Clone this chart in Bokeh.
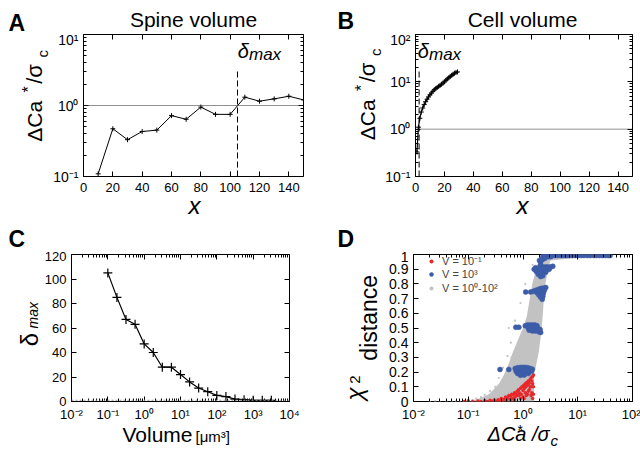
import math
from bokeh.plotting import figure
from bokeh.layouts import column, row
from bokeh.models import (Label, Span, FixedTicker, LinearAxis, LogAxis,
                          Legend, LegendItem, Range1d)
from bokeh.embed import file_html
from bokeh.resources import INLINE

FONT = "Liberation Sans"
RED = "#e8282b"
BLUE = "#3d5ca8"
GRAY = "#c2c2c2"

# ---------------- data ----------------
# Panel A: spine volume
a_x = [10, 20, 30, 40, 50, 60, 70, 80, 90, 100, 110, 120, 130, 140, 150]
a_y = [0.109, 0.47, 0.33, 0.43, 0.45, 0.72, 0.64, 0.95, 0.75, 0.75, 1.31, 1.15, 1.24, 1.35, 1.2]
a_delta = 105
a_delta_top = 3.2

# Panel B: cell volume
b_x = [1, 2, 3, 4, 5, 6, 7, 8, 9, 10, 11, 12, 13, 14, 15, 16, 17, 18, 19, 20,
       21, 22, 23, 24, 25, 26, 27, 28, 29]
b_y = [0.33, 1.1, 1.7, 2.3, 2.8, 3.3, 3.8, 4.3, 4.8, 5.3, 5.8, 6.3, 6.8, 7.2, 7.6, 8.0,
       8.4, 8.9, 9.4, 10.0, 10.8, 11.5, 12.2, 12.9, 13.7, 14.5, 15.2, 15.8, 16.2]
b_delta = 2.5
b_delta_top = 18

threshold = 1.0

# Panel C: delta_max vs volume
c_x = [0.1, 0.178, 0.316, 0.562, 1, 1.78, 3.16, 5.62, 10, 17.8, 31.6, 56.2,
       100, 178, 316, 562, 1000, 1780, 3160]
c_y = [105, 85, 67, 63, 47, 40, 28, 28, 22, 16, 11, 8, 5, 4, 2, 1.5, 1, 1, 1]

# Panel D: chi^2 distance
red_pts = [(0.085, 0.0), (0.1, 0.005), (0.12, 0.0), (0.15, 0.003), (0.17, 0.0), (0.2, 0.005),
           (0.22, 0.0), (0.25, 0.008), (0.28, 0.003), (0.3, 0.01), (0.33, 0.0), (0.35, 0.012),
           (0.38, 0.005), (0.4, 0.02), (0.42, 0.0), (0.45, 0.015), (0.48, 0.03), (0.5, 0.008),
           (0.52, 0.025), (0.55, 0.04), (0.58, 0.015), (0.6, 0.035), (0.62, 0.05), (0.65, 0.02),
           (0.68, 0.045), (0.7, 0.06), (0.72, 0.03), (0.75, 0.055), (0.78, 0.07), (0.8, 0.04),
           (0.83, 0.08), (0.86, 0.06), (0.9, 0.09), (0.93, 0.05), (0.96, 0.1), (1.0, 0.075),
           (1.03, 0.11), (1.06, 0.09), (1.1, 0.12), (1.13, 0.1), (1.17, 0.13), (1.2, 0.11),
           (1.25, 0.14), (1.3, 0.125), (1.35, 0.15), (1.4, 0.16), (1.45, 0.14), (1.5, 0.17),
           (1.55, 0.18), (0.9, 0.02), (1.1, 0.06), (1.3, 0.08), (0.7, 0.01), (1.0, 0.03),
           (1.2, 0.05), (1.4, 0.1), (1.5, 0.12), (1.45, 0.06), (0.85, 0.04), (0.6, 0.005),
           (1.5, 0.02), (1.4, 0.04), (1.55, 0.1), (1.35, 0.1), (1.25, 0.07), (1.15, 0.04),
           (1.05, 0.02), (1.55, 0.05)]
blue_pts = [(2.4, 0.993), (2.7, 0.993), (3.0, 0.993), (3.4, 0.993), (3.8, 0.993), (4.3, 0.993),
            (4.9, 0.993), (5.5, 0.993), (6.2, 0.993), (7, 0.993), (8, 0.993), (9, 0.993),
            (10, 0.993), (11.5, 0.993), (13, 0.993), (15, 0.993), (17, 0.993), (19.5, 0.993),
            (22, 0.993), (25, 0.993), (28, 0.993), (32, 0.993), (36, 0.993), (39, 0.993),
            (2.3, 0.985), (2.6, 0.985), (2.9, 0.985), (3.2, 0.985),
            (2.0, 0.96), (2.1, 0.95), (2.2, 0.965), (2.35, 0.97), (2.5, 0.975), (2.1, 0.93),
            (1.6, 0.9), (1.7, 0.91), (1.85, 0.905), (2.0, 0.91), (2.2, 0.91), (2.4, 0.915),
            (2.65, 0.915), (2.9, 0.915), (3.2, 0.915), (3.5, 0.92), (1.75, 0.885), (1.95, 0.885),
            (2.15, 0.89), (2.4, 0.895), (2.7, 0.895), (3.0, 0.9), (1.9, 0.865), (2.1, 0.87),
            (2.35, 0.875), (2.6, 0.88), (2.1, 0.85), (2.3, 0.855),
            (1.12, 0.745), (1.38, 0.745),
            (1.55, 0.75), (1.7, 0.755), (1.85, 0.76), (2.0, 0.765), (2.2, 0.77), (2.4, 0.77),
            (2.6, 0.775), (1.8, 0.74), (2.0, 0.745), (2.2, 0.75), (2.45, 0.755), (1.95, 0.725),
            (2.15, 0.73), (2.35, 0.735), (2.1, 0.71), (2.3, 0.715), (2.25, 0.695),
            (0.74, 0.505), (0.84, 0.505),
            (1.1, 0.515), (1.22, 0.52), (1.35, 0.52), (1.5, 0.52), (1.65, 0.52), (1.8, 0.515),
            (1.25, 0.5), (1.4, 0.5), (1.55, 0.505), (1.75, 0.5), (1.9, 0.495), (2.05, 0.49),
            (1.3, 0.485), (1.5, 0.48), (1.7, 0.48), (1.95, 0.475), (2.1, 0.47),
            (0.38, 0.218), (0.55, 0.218),
            (0.72, 0.225), (0.8, 0.23), (0.9, 0.232), (1.0, 0.232), (1.1, 0.232), (1.22, 0.23),
            (1.35, 0.225), (1.48, 0.22), (0.75, 0.205), (0.85, 0.21), (0.95, 0.215), (1.05, 0.215),
            (1.18, 0.212), (1.3, 0.21), (1.42, 0.205), (0.8, 0.19), (0.95, 0.195), (1.1, 0.195),
            (1.25, 0.19), (0.9, 0.178), (1.05, 0.18)]
gray_pts = [(0.02, 0.0), (0.025, 0.002), (0.03, 0.0), (0.04, 0.001), (0.05, 0.0), (0.06, 0.002),
            (0.07, 0.0), (0.08, 0.003), (0.09, 0.0), (0.1, 0.008), (0.12, 0.012), (0.14, 0.02),
            (0.17, 0.03), (0.2, 0.045), (0.25, 0.07), (0.31, 0.1), (0.36, 0.16), (0.43, 0.23),
            (0.52, 0.31), (0.6, 0.4), (0.55, 0.5), (0.72, 0.55), (0.9, 0.67), (1.1, 0.8),
            (1.5, 0.93), (0.35, 0.04), (0.45, 0.12), (0.5, 0.2), (0.62, 0.3)]
# outline of the dense grey cloud (V = 10^0 - 10^2)
band_y = [0.0, 0.02, 0.05, 0.12, 0.18, 0.23, 0.34, 0.43, 0.5, 0.58, 0.69, 0.8, 0.89, 0.96, 1.0]
band_left = [0.1, 0.158, 0.24, 0.363, 0.447, 0.513, 0.661, 0.832, 1.0, 1.175, 1.318, 1.479,
             1.698, 1.95, 2.24]
band_right = [1.585, 1.585, 1.585, 1.585, 1.6, 1.7, 1.95, 2.09, 2.19, 2.29, 2.4, 2.57,
              2.82, 3.16, 39.0]

red_x = [p[0] for p in red_pts]
red_y = [p[1] for p in red_pts]
blue_x = [p[0] for p in blue_pts]
blue_y = [p[1] for p in blue_pts]
gray_x = [p[0] for p in gray_pts]
gray_y = [p[1] for p in gray_pts]

# ticks
lin_x_ticks = [0, 20, 40, 60, 80, 100, 120, 140]
a_yticks = [0.1, 1, 10]
a_ylabels = ["10\u207b\u00b9", "10\u2070", "10\u00b9"]
b_yticks = [0.1, 1, 10, 100]
b_ylabels = ["10\u207b\u00b9", "10\u2070", "10\u00b9", "10\u00b2"]
c_xticks = [0.01, 0.1, 1, 10, 100, 1000, 10000]
c_xlabels = ["10\u207b\u00b2", "10\u207b\u00b9", "10\u2070", "10\u00b9", "10\u00b2", "10\u00b3", "10\u2074"]
c_yticks = [0, 20, 40, 60, 80, 100, 120]
d_xticks = [0.01, 0.1, 1, 10, 100]
d_xlabels = ["10\u207b\u00b2", "10\u207b\u00b9", "10\u2070", "10\u00b9", "10\u00b2"]
d_yticks = [0, 0.1, 0.2, 0.3, 0.4, 0.5, 0.6, 0.7, 0.8, 0.9, 1.0]
d_ylabels = ["0", "0.1", "0.2", "0.3", "0.4", "0.5", "0.6", "0.7", "0.8", "0.9", "1"]


def minor_log(lo, hi):
    return [m * 10.0 ** e for e in range(lo, hi) for m in range(2, 10)]


def axis_style(ax, size="14px", standoff=5):
    ax.axis_line_color = None
    ax.major_tick_in = 5
    ax.major_tick_out = 0
    ax.minor_tick_in = 3
    ax.minor_tick_out = 0
    ax.major_tick_line_color = "black"
    ax.minor_tick_line_color = "black"
    ax.major_label_text_font = FONT
    ax.major_label_text_color = "black"
    ax.major_label_text_font_size = size
    ax.major_label_standoff = standoff


def setup(p, xlog, ylog, xt, xm, xl, yt, ym, yl, xfs="13px", yfs="14px", xso=6):
    p.xgrid.visible = False
    p.ygrid.visible = False
    p.outline_line_color = "black"
    p.outline_line_width = 1
    p.outline_line_alpha = 1
    p.background_fill_color = "white"
    p.border_fill_color = "white"
    bx = p.below[0]
    ly = p.left[0]
    bx.ticker = FixedTicker(ticks=xt, minor_ticks=xm)
    bx.major_label_overrides = dict(zip(xt, xl))
    axis_style(bx, xfs, xso)
    ly.ticker = FixedTicker(ticks=yt, minor_ticks=ym)
    ly.major_label_overrides = dict(zip(yt, yl))
    axis_style(ly, yfs, 5)
    xcls = LogAxis if xlog else LinearAxis
    ycls = LogAxis if ylog else LinearAxis
    top = xcls(ticker=FixedTicker(ticks=xt, minor_ticks=xm))
    axis_style(top, "2px", 0)
    top.major_label_overrides = {t: "" for t in xt}
    p.add_layout(top, "above")
    right = ycls(ticker=FixedTicker(ticks=yt, minor_ticks=ym))
    axis_style(right, "2px", 0)
    right.major_label_overrides = {t: "" for t in yt}
    p.add_layout(right, "right")


def txt(p, text, x, y, size, style="normal", angle=0.0, align="left"):
    # (x, y): anchor of the text's vertical middle, frame-relative screen pixels
    p.add_layout(Label(x=x, y=y, x_units="screen", y_units="screen", text=text,
                       text_font=FONT, text_font_size=f"{size}px",
                       text_font_style=style, text_color="black", angle=angle,
                       text_align=align, text_baseline="middle"))


class Strip:
    """A text-only figure; labels are placed by page coordinates (text middle).
    bt/bb: top/bottom borders it shares with the plots of its row."""

    def __init__(self, w, h, x0, y0, bt=0, bb=0):
        self.x0, self.y0, self.h, self.bb = x0, y0, h, bb
        self.p = figure(width=w, height=h, x_range=Range1d(0, 1), y_range=Range1d(0, 1),
                        x_axis_type=None, y_axis_type=None, min_border=0,
                        min_border_top=bt, min_border_bottom=bb,
                        outline_line_color=None, title_location=None,
                        toolbar_location=None, output_backend="svg")
        self.p.background_fill_color = "white"
        self.p.border_fill_color = "white"

    def t(self, text, px, py, size, style="normal", angle=0.0, align="left"):
        txt(self.p, text, px - self.x0, self.y0 + self.h - self.bb - py, size, style,
            angle, align)


R = math.pi / 2
common = dict(output_backend="svg", toolbar_location=None, title_location=None)

# ---------------- row 1 ----------------
top1 = Strip(640, 31, 0, 0)
top1.t("A", 8, 22.6, 23, style="bold")
top1.t("Spine volume", 193, 18.6, 21, align="center")
top1.t("B", 337, 20.3, 23, style="bold")
top1.t("Cell volume", 522, 18.6, 21, align="center")

yA = Strip(50, 167, 0, 31, bt=3, bb=22)
yA.t("\u0394Ca", 34.3, 120.8, 21, angle=R, align="center")
yA.t("*", 28.4, 89, 16, angle=R, align="center")
yA.t("/\u03c3", 34, 73.4, 22, angle=R, align="center")
yA.t("c", 41.5, 53.3, 15, angle=R, align="center")

pA = figure(width=270, height=167, x_range=Range1d(0, 150), y_range=Range1d(0.1, 10),
            y_axis_type="log", min_border_left=33, min_border_right=17,
            min_border_top=3, min_border_bottom=22, **common)
setup(pA, False, True, lin_x_ticks, [], [str(v) for v in lin_x_ticks],
      a_yticks, minor_log(-1, 1), a_ylabels)
pA.add_layout(Span(location=threshold, dimension="width", line_color="#222222",
                   line_dash="1 1", line_width=1))
pA.segment(x0=[a_delta], y0=[0.1], x1=[a_delta], y1=[a_delta_top], line_color="black",
           line_dash="6 3", line_width=1)
pA.line(a_x, a_y, line_color="black", line_width=1)
pA.scatter(a_x, a_y, marker="cross", size=5, line_color="black", line_width=1)
txt(pA, "\u03b4", 154.3, 126, 20, style="italic")
txt(pA, "max", 165.5, 122, 17, style="italic")

yB = Strip(62, 167, 320, 31, bt=3, bb=22)
yB.t("\u0394Ca", 367.3, 119.3, 21, angle=R, align="center")
yB.t("*", 361.4, 87.5, 16, angle=R, align="center")
yB.t("/\u03c3", 367, 71.9, 22, angle=R, align="center")
yB.t("c", 374.5, 51.8, 15, angle=R, align="center")

pB = figure(width=258, height=167, x_range=Range1d(0, 150), y_range=Range1d(0.1, 100),
            y_axis_type="log", min_border_left=30, min_border_right=8,
            min_border_top=3, min_border_bottom=22, **common)
setup(pB, False, True, lin_x_ticks, [], [str(v) for v in lin_x_ticks],
      b_yticks, minor_log(-1, 2), b_ylabels)
pB.add_layout(Span(location=threshold, dimension="width", line_color="#222222",
                   line_dash="1 1", line_width=1))
pB.segment(x0=[b_delta], y0=[0.1], x1=[b_delta], y1=[b_delta_top], line_color="black",
           line_dash="6 3", line_width=1)
pB.line(b_x, b_y, line_color="black", line_width=1.2)
pB.scatter(b_x, b_y, marker="cross", size=5, line_color="black", line_width=1)
txt(pB, "\u03b4", 2.3, 126, 20, style="italic")
txt(pB, "max", 13.5, 122, 17, style="italic")

bot1 = Strip(640, 24, 0, 198)
bot1.t("x", 194, 204.6, 24, style="italic", align="center")
bot1.t("x", 522, 204.6, 24, style="italic", align="center")

# ---------------- row 2 ----------------
top2 = Strip(640, 29, 0, 222)
top2.t("C", 8, 238.6, 23, style="bold")
top2.t("D", 337, 238.6, 23, style="bold")

yC = Strip(40, 173, 0, 251, bt=3, bb=22)
yC.t("\u03b4", 28.6, 340, 24, angle=R, align="center")
yC.t("max", 32.6, 315.8, 14, style="italic", angle=R, align="center")

pC = figure(width=280, height=173, x_range=Range1d(0.01, 10000), y_range=Range1d(0, 120),
            x_axis_type="log", min_border_left=31, min_border_right=31,
            min_border_top=3, min_border_bottom=22, **common)
setup(pC, True, False, c_xticks, minor_log(-2, 4), c_xlabels,
      c_yticks, [], [str(v) for v in c_yticks], xfs="13px", yfs="13px", xso=5)
pC.add_layout(Span(location=threshold, dimension="width", line_color="#999999",
                   line_dash="2 2", line_width=1))
pC.line(c_x, c_y, line_color="black", line_width=1.2)
pC.scatter(c_x, c_y, marker="cross", size=9, line_color="black", line_width=1.2)

yD = Strip(60, 173, 320, 251, bt=3, bb=22)
yD.t("\u03c7", 353.6, 394.5, 24, style="italic", angle=R, align="center")
yD.t("2", 354.8, 380, 15, angle=R, align="center")
yD.t("distance", 368.7, 318.3, 23, angle=R, align="center")

pD = figure(width=260, height=173, x_range=Range1d(0.01, 100), y_range=Range1d(0, 1),
            x_axis_type="log", min_border_left=33, min_border_right=8,
            min_border_top=3, min_border_bottom=22, **common)
setup(pD, True, False, d_xticks, minor_log(-2, 2), d_xlabels,
      d_yticks, [], d_ylabels, xfs="13px", yfs="14px", xso=5)
pD.harea(y=band_y, x1=band_left, x2=band_right, fill_color=GRAY, fill_alpha=1)
r_gray = pD.scatter(gray_x, gray_y, marker="circle", size=2.2, fill_color=GRAY,
                    line_color=None)
r_red = pD.scatter(red_x, red_y, marker="circle", size=3.5, fill_color=RED,
                   line_color=None)
r_blue = pD.scatter(blue_x, blue_y, marker="circle", size=5, fill_color=BLUE,
                    line_color=BLUE, line_width=0.5)
legend = Legend(items=[LegendItem(label="V = 10\u207b\u00b9", renderers=[r_red]),
                       LegendItem(label="V = 10\u00b3", renderers=[r_blue]),
                       LegendItem(label="V = 10\u2070-10\u00b2", renderers=[r_gray])],
                location=(13, 106), orientation="vertical",
                label_text_font=FONT, label_text_font_size="11px",
                glyph_width=10, glyph_height=10, label_height=10, spacing=0,
                padding=0, margin=0, label_standoff=6,
                border_line_color=None, background_fill_alpha=0)
pD.add_layout(legend)

bot2 = Strip(640, 26, 0, 424)
bot2.t("Volume", 122, 434.1, 21)
bot2.t("[\u03bcm\u00b3]", 195, 436.3, 15)
bot2.t("\u0394Ca /\u03c3", 487, 433, 20, style="italic")
bot2.t("*", 517, 429.5, 14)
bot2.t("c", 550, 440.3, 15, style="italic")

layout = column(top1.p, row(yA.p, pA, yB.p, pB), bot1.p,
                top2.p, row(yC.p, pC, yD.p, pD), bot2.p)
open("out.html", "w").write(file_html(layout, INLINE))
